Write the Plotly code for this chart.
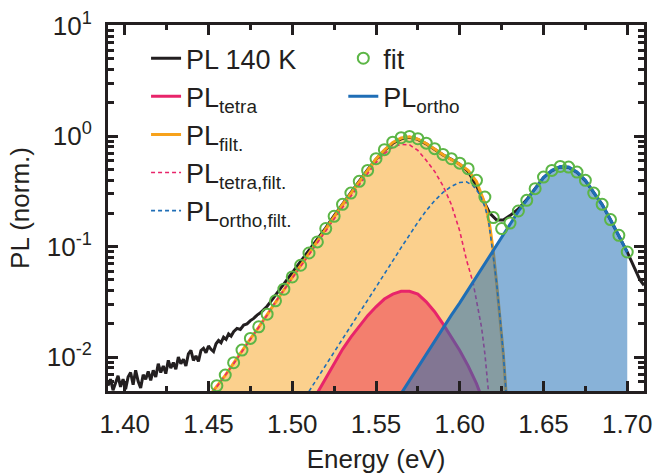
import plotly.graph_objects as go

# ---------------- data (stored as log10 of PL) ----------------
energy_data = [1.3900, 1.3915, 1.3930, 1.3945, 1.3960, 1.3975, 1.3990, 1.4005, 1.4020, 1.4035,
               1.4050, 1.4065, 1.4080, 1.4095, 1.4110, 1.4125, 1.4140, 1.4155, 1.4170, 1.4185,
               1.4200, 1.4215, 1.4230, 1.4245, 1.4260, 1.4275, 1.4290, 1.4305, 1.4320, 1.4335,
               1.4350, 1.4365, 1.4380, 1.4395, 1.4410, 1.4425, 1.4440, 1.4455, 1.4470, 1.4485,
               1.4500, 1.4515, 1.4530, 1.4545, 1.4560, 1.4575, 1.4590, 1.4605, 1.4620, 1.4635,
               1.4650, 1.4670, 1.4690, 1.4710, 1.4730, 1.4750, 1.4770, 1.4790, 1.4810, 1.4830,
               1.4850, 1.4870, 1.4890, 1.4910, 1.4930, 1.4950, 1.4970, 1.4990, 1.5010, 1.5030,
               1.5050, 1.5070, 1.5090, 1.5110, 1.5130, 1.515, 1.520, 1.525, 1.530, 1.535,
               1.540, 1.545, 1.550, 1.555, 1.560, 1.565, 1.570, 1.575, 1.580, 1.585,
               1.590, 1.595, 1.600, 1.605, 1.610, 1.614, 1.618, 1.622, 1.626, 1.630,
               1.635, 1.640, 1.645, 1.650, 1.655, 1.660, 1.665, 1.670, 1.675, 1.680,
               1.685, 1.690, 1.695, 1.700, 1.7045, 1.7075, 1.710]
pl_data_log10 = [-2.26, -2.20, -2.30, -2.24, -2.17, -2.27, -2.20, -2.29, -2.18, -2.14,
                 -2.25, -2.12, -2.22, -2.28, -2.16, -2.20, -2.13, -2.21, -2.12, -2.18,
                 -2.06, -2.14, -2.08, -2.15, -2.03, -2.10, -2.05, -2.11, -2.00, -2.06,
                 -2.02, -2.08, -1.97, -1.94, -2.03, -1.99, -2.04, -1.94, -1.92, -1.96,
                 -1.90, -1.93, -1.95, -1.88, -1.85, -1.87, -1.82, -1.84, -1.79, -1.81,
                 -1.77, -1.74, -1.75, -1.71, -1.70, -1.67, -1.65, -1.62, -1.60, -1.57,
                 -1.54, -1.50, -1.46, -1.42, -1.38, -1.34, -1.30, -1.26, -1.22, -1.18,
                 -1.14, -1.10, -1.06, -1.01, -0.97, -0.94, -0.83, -0.72, -0.615, -0.51,
                 -0.405, -0.305, -0.21, -0.13, -0.065, -0.025, -0.012, -0.03, -0.07, -0.12,
                 -0.17, -0.21, -0.255, -0.32, -0.45, -0.58, -0.70, -0.76, -0.76, -0.72,
                 -0.66, -0.575, -0.47, -0.375, -0.315, -0.28, -0.285, -0.33, -0.405, -0.515,
                 -0.62, -0.76, -0.90, -1.05, -1.20, -1.30, -1.35]

energy_fit = [1.455, 1.460, 1.465, 1.470, 1.475, 1.480, 1.485, 1.490, 1.495, 1.500,
              1.505, 1.510, 1.515, 1.520, 1.525, 1.530, 1.535, 1.540, 1.545, 1.550,
              1.555, 1.560, 1.565, 1.570, 1.575, 1.580, 1.585, 1.590, 1.595, 1.600,
              1.605, 1.610, 1.615, 1.620, 1.625, 1.630, 1.635, 1.640, 1.645, 1.650,
              1.655, 1.660, 1.665, 1.670, 1.675, 1.680, 1.685, 1.690, 1.695, 1.700]
fit_log10 = [-2.259, -2.163, -2.051, -1.937, -1.831, -1.726, -1.612, -1.491, -1.386, -1.275,
             -1.169, -1.058, -0.958, -0.837, -0.726, -0.618, -0.516, -0.410, -0.311, -0.205,
             -0.123, -0.055, -0.015, -0.003, -0.024, -0.064, -0.114, -0.166, -0.205, -0.245,
             -0.295, -0.401, -0.552, -0.738, -0.837, -0.787, -0.678, -0.582, -0.476, -0.371,
             -0.311, -0.275, -0.281, -0.326, -0.401, -0.516, -0.618, -0.756, -0.898, -1.049]

energy_filt = [1.450, 1.455, 1.460, 1.465, 1.470, 1.475, 1.480, 1.485, 1.490, 1.495,
               1.500, 1.505, 1.510, 1.515, 1.520, 1.525, 1.530, 1.535, 1.540, 1.545,
               1.550, 1.555, 1.560, 1.565, 1.570, 1.575, 1.580, 1.585, 1.590, 1.595,
               1.600, 1.605, 1.610, 1.614, 1.616, 1.618, 1.620, 1.622, 1.624, 1.626, 1.628]
filt_log10 = [-2.36, -2.262, -2.166, -2.054, -1.940, -1.834, -1.729, -1.615, -1.494, -1.389,
              -1.278, -1.172, -1.061, -0.961, -0.840, -0.729, -0.621, -0.519, -0.413, -0.314,
              -0.208, -0.126, -0.058, -0.018, -0.006, -0.027, -0.067, -0.117, -0.170, -0.212,
              -0.255, -0.310, -0.41, -0.57, -0.66, -0.82, -1.04, -1.33, -1.64, -1.97, -2.40]

energy_tetra_filt = [1.450, 1.455, 1.460, 1.465, 1.470, 1.475, 1.480, 1.485, 1.490, 1.495,
                     1.500, 1.505, 1.510, 1.515, 1.520, 1.525, 1.530, 1.535, 1.540, 1.545,
                     1.550, 1.555, 1.560, 1.565, 1.570, 1.575, 1.580, 1.585, 1.590, 1.595,
                     1.600, 1.604, 1.608, 1.611, 1.613, 1.615, 1.617, 1.618]
tetra_filt_log10 = [-2.37, -2.27, -2.17, -2.06, -1.95, -1.84, -1.735, -1.62, -1.50, -1.395,
                    -1.285, -1.18, -1.07, -0.97, -0.86, -0.75, -0.645, -0.54, -0.44, -0.34,
                    -0.24, -0.16, -0.10, -0.075, -0.08, -0.13, -0.22, -0.32, -0.45, -0.62,
                    -0.86, -1.12, -1.33, -1.55, -1.73, -1.97, -2.28, -2.45]

energy_ortho_filt = [1.510, 1.515, 1.520, 1.525, 1.530, 1.535, 1.540, 1.545, 1.550, 1.555,
                     1.560, 1.565, 1.570, 1.575, 1.580, 1.585, 1.590, 1.595, 1.600, 1.604,
                     1.608, 1.612, 1.615, 1.617, 1.619, 1.622, 1.624, 1.626, 1.628]
ortho_filt_log10 = [-2.31, -2.19, -2.07, -1.955, -1.84, -1.72, -1.60, -1.485, -1.37, -1.25,
                    -1.13, -1.01, -0.89, -0.78, -0.675, -0.585, -0.51, -0.455, -0.42, -0.415,
                    -0.45, -0.53, -0.64, -0.75, -0.97, -1.33, -1.64, -1.97, -2.40]

energy_tetra = [1.514, 1.520, 1.525, 1.530, 1.535, 1.540, 1.545, 1.550, 1.555, 1.560,
                1.565, 1.570, 1.575, 1.580, 1.585, 1.590, 1.595, 1.600, 1.605, 1.610, 1.613]
tetra_log10 = [-2.35, -2.19, -2.05, -1.93, -1.82, -1.72, -1.625, -1.545, -1.475, -1.43,
               -1.405, -1.405, -1.43, -1.50, -1.59, -1.70, -1.82, -1.94, -2.08, -2.24, -2.36]

energy_ortho = [1.565, 1.570, 1.575, 1.580, 1.585, 1.590, 1.595, 1.600, 1.605, 1.610,
                1.615, 1.620, 1.625, 1.630, 1.635, 1.640, 1.645, 1.650, 1.655, 1.660,
                1.665, 1.670, 1.675, 1.680, 1.685, 1.690, 1.695, 1.700]
ortho_log10 = [-2.33, -2.21, -2.09, -1.98, -1.86, -1.74, -1.62, -1.51, -1.39, -1.27,
               -1.16, -1.04, -0.92, -0.79, -0.68, -0.58, -0.475, -0.375, -0.31, -0.275,
               -0.28, -0.325, -0.40, -0.515, -0.62, -0.755, -0.90, -1.05]

x_tick_values = [1.40, 1.45, 1.50, 1.55, 1.60, 1.65, 1.70]
x_tick_labels = ["1.40", "1.45", "1.50", "1.55", "1.60", "1.65", "1.70"]
y_tick_values = [0.01, 0.1, 1, 10]
y_tick_labels = ["10<sup>-2</sup>", "10<sup>-1</sup>", "10<sup>0</sup>", "10<sup>1</sup>"]
y_minor_values = [m * d for d in (0.001, 0.01, 0.1, 1) for m in range(2, 10)]


def lin(vals):
    return [10 ** v for v in vals]


# ---------------- styles ----------------
BLACK = "#231F20"
PINK = "#E8246A"
ORANGE = "#F7A21B"
BLUE = "#1F6EB6"
GREEN = "#5CB646"
FONT = "Liberation Sans, Arial, sans-serif"

fig = go.Figure()

# fills (under the lines)
fig.add_trace(go.Scatter(x=energy_filt, y=lin(filt_log10), mode="lines", fill="tozeroy",
                         fillcolor="rgba(247,162,27,0.5)", line=dict(width=0),
                         showlegend=False, hoverinfo="skip"))
fig.add_trace(go.Scatter(x=energy_tetra, y=lin(tetra_log10), mode="lines", fill="tozeroy",
                         fillcolor="rgba(235,45,80,0.5)", line=dict(width=0),
                         showlegend=False, hoverinfo="skip"))

# lines
fig.add_trace(go.Scatter(x=energy_data, y=lin(pl_data_log10), mode="lines", name="PL 140 K",
                         line=dict(color=BLACK, width=3), legend="legend", legendrank=1))
fig.add_trace(go.Scatter(x=energy_filt, y=lin(filt_log10), mode="lines", name="PL<sub>filt.</sub>",
                         line=dict(color=ORANGE, width=3), legend="legend", legendrank=3))
fig.add_trace(go.Scatter(x=energy_tetra, y=lin(tetra_log10), mode="lines", name="PL<sub>tetra</sub>",
                         line=dict(color=PINK, width=3), legend="legend", legendrank=2))
fig.add_trace(go.Scatter(x=energy_tetra_filt, y=lin(tetra_filt_log10), mode="lines",
                         name="PL<sub>tetra,filt.</sub>",
                         line=dict(color=PINK, width=1.6, dash="4px,3px"), legend="legend", legendrank=4))
fig.add_trace(go.Scatter(x=energy_ortho_filt, y=lin(ortho_filt_log10), mode="lines",
                         name="PL<sub>ortho,filt.</sub>",
                         line=dict(color=BLUE, width=1.6, dash="4px,3px"), legend="legend", legendrank=5))

# ortho fill on top (semi-transparent), then its line
fig.add_trace(go.Scatter(x=energy_ortho, y=lin(ortho_log10), mode="lines", fill="tozeroy",
                         fillcolor="rgba(31,110,182,0.53)", line=dict(width=0),
                         showlegend=False, hoverinfo="skip"))
fig.add_trace(go.Scatter(x=energy_ortho, y=lin(ortho_log10), mode="lines", name="PL<sub>ortho</sub>",
                         line=dict(color=BLUE, width=3), legend="legend2", legendrank=2))

# fit circles
fig.add_trace(go.Scatter(x=energy_fit, y=lin(fit_log10), mode="markers", name="fit",
                         marker=dict(symbol="circle-open", size=11, color=GREEN,
                                     line=dict(width=2, color=GREEN)),
                         legend="legend2", legendrank=1))

axis_common = dict(showline=True, linewidth=3, linecolor=BLACK, mirror="allticks",
                   ticks="inside", tickwidth=3, tickcolor=BLACK, showgrid=False, zeroline=False,
                   tickfont=dict(family=FONT, size=26, color=BLACK))

fig.update_layout(
    width=655, height=475,
    margin=dict(l=108, r=11, t=25, b=84, autoexpand=False),
    plot_bgcolor="white", paper_bgcolor="white",
    font=dict(family=FONT, size=26, color=BLACK),
    xaxis=dict(range=[1.39, 1.71], tickmode="array", tickvals=x_tick_values, ticktext=x_tick_labels,
               ticklen=10, ticklabelstandoff=8,
               minor=dict(ticks="inside", dtick=0.025, tick0=1.40, ticklen=5, tickwidth=3,
                          tickcolor=BLACK, showgrid=False),
               title=dict(text="Energy (eV)", font=dict(family=FONT, size=26, color=BLACK), standoff=12),
               **axis_common),
    yaxis=dict(type="log", range=[-2.307, 1.005], tickmode="array", tickvals=y_tick_values,
               ticktext=y_tick_labels, ticklen=10, ticklabelstandoff=8,
               minor=dict(ticks="inside", tickmode="array", tickvals=y_minor_values, ticklen=6,
                          tickwidth=3, tickcolor=BLACK, showgrid=False),
               title=dict(text="PL (norm.)", font=dict(family=FONT, size=26, color=BLACK), standoff=10),
               **axis_common),
    legend=dict(x=0.071, y=0.975, xanchor="left", yanchor="top", bgcolor="rgba(0,0,0,0)",
                font=dict(family=FONT, size=27, color=BLACK), tracegroupgap=0, traceorder="normal"),
    legend2=dict(x=0.439, y=0.975, xanchor="left", yanchor="top", bgcolor="rgba(0,0,0,0)",
                 font=dict(family=FONT, size=27, color=BLACK), tracegroupgap=0, traceorder="normal"),
)

fig.write_html("out.html", config={"displayModeBar": False},
               post_script="document.body.style.margin='0';document.body.style.padding='0';")
